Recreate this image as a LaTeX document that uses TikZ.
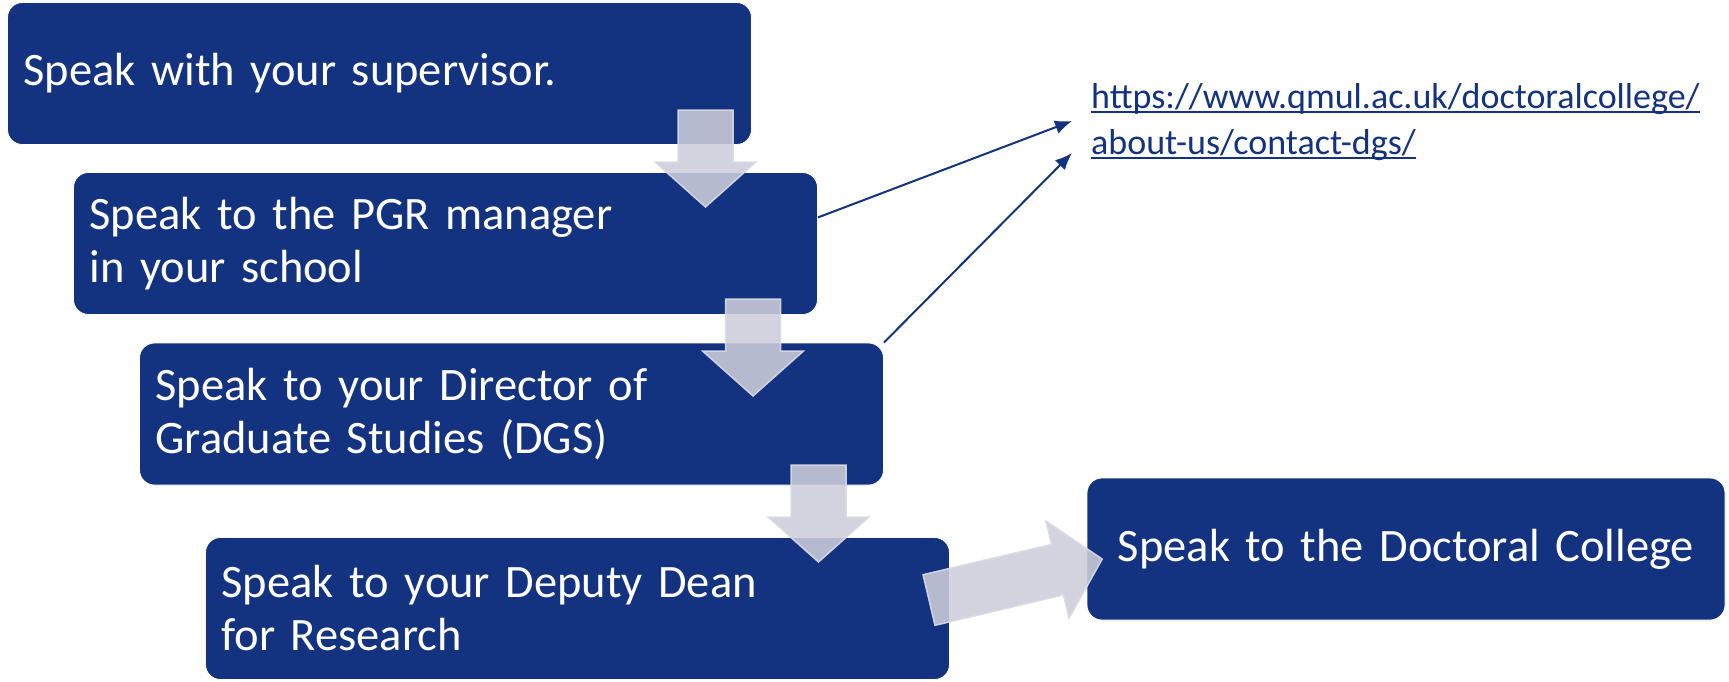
\documentclass[tikz,border=0pt]{standalone}
\usepackage{fontspec}
\setmainfont{Carlito}
\usetikzlibrary{arrows.meta}
\definecolor{qmblue}{RGB}{19,50,128}
\definecolor{qmgrey}{RGB}{204,205,217}
\definecolor{qmedge}{RGB}{218,219,228}
\newlength\linkwd
\newcommand\linkul[1]{\settowidth{\linkwd}{#1}#1\llap{\rule[-5pt]{\linkwd}{2pt}}}
\tikzset{
    stepbox/.style={draw=white, line width=0.8pt, fill=qmblue, text=white, rounded corners=15pt,
        minimum height=142pt, inner xsep=16pt, text width=712pt, align=left,
        font=\fontsize{46.5}{53}\selectfont},
    blockarrow/.style={fill=qmgrey, draw=qmedge, line width=1.5pt, fill opacity=0.88, draw opacity=0.9},
    linkarrow/.style={draw=qmblue, line width=2pt, -{Latex[length=17pt,width=14pt]}}
}

\begin{document}
\begin{tikzpicture}[x=1pt, y=-1pt]
    \useasboundingbox (0, 0) rectangle (1729, 681);
    \node[stepbox] (sup) at (379.5, 73.5) {Speak with your supervisor.};
    \node[stepbox] (pgr) at (445.5, 243.5) {Speak to the PGR manager\\in your school};
    \node[stepbox] (dgs) at (511.5, 414) {Speak to your Director of\\Graduate Studies (DGS)};
    \node[stepbox] (dean) at (577.5, 608.5) {Speak to your Deputy Dean\\for Research};
    \node[stepbox, text width=606pt, align=center] (college) at (1406, 549) {Speak to the Doctoral College};
    \node[anchor=north west, inner sep=0pt, align=left, text=qmblue, font=\fontsize{36}{46}\selectfont] (link) at (1091, 83)
        {\linkul{https://www.qmul.ac.uk/doctoralcollege/}\\\linkul{about-us/contact-dgs/}};
    \coordinate (tipA) at (1072, 121);
    \coordinate (tipB) at (1072, 153);
    \draw[linkarrow] (pgr.4) -- (tipA);
    \draw[linkarrow] (dgs.north east) -- (tipB);
    \foreach \cx/\ty in {705.5/110, 753/299, 818.5/465}
        \draw[blockarrow] (\cx-27.5, \ty) -- ++(55, 0) -- ++(0, 52) -- ++(23, 0) -- (\cx, \ty+97)
            -- (\cx-50.5, \ty+52) -- ++(23, 0) -- cycle;
    \begin{scope}[shift={(929, 600)}, rotate=13.3]
        \draw[blockarrow] (0, -26) -- (132, -26) -- (132, -50) -- (178, 0) -- (132, 50) -- (132, 26) -- (0, 26) -- cycle;
    \end{scope}
\end{tikzpicture}
\end{document}
